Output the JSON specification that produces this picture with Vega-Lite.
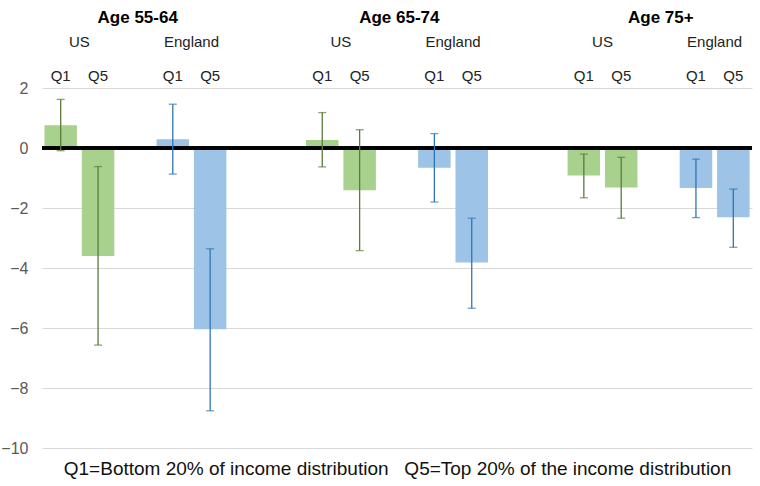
{
  "$schema": "https://vega.github.io/schema/vega-lite/v6.json",
  "width": 710,
  "height": 360,
  "autosize": {"type": "none"},
  "padding": {"left": 42, "top": 88, "right": 8, "bottom": 38},
  "background": "white",
  "config": {
    "view": {"stroke": null},
    "font": "Liberation Sans",
    "text": {"font": "Liberation Sans"}
  },
  "data": {
    "values": [
      {"age": "55-64", "country": "US", "quartile": "Q1", "value": 0.76, "lo": -0.09, "hi": 1.62},
      {"age": "55-64", "country": "US", "quartile": "Q5", "value": -3.60, "lo": -6.57, "hi": -0.62},
      {"age": "55-64", "country": "England", "quartile": "Q1", "value": 0.29, "lo": -0.87, "hi": 1.46},
      {"age": "55-64", "country": "England", "quartile": "Q5", "value": -6.04, "lo": -8.76, "hi": -3.36},
      {"age": "65-74", "country": "US", "quartile": "Q1", "value": 0.27, "lo": -0.63, "hi": 1.18},
      {"age": "65-74", "country": "US", "quartile": "Q5", "value": -1.41, "lo": -3.42, "hi": 0.61},
      {"age": "65-74", "country": "England", "quartile": "Q1", "value": -0.66, "lo": -1.80, "hi": 0.48},
      {"age": "65-74", "country": "England", "quartile": "Q5", "value": -3.82, "lo": -5.34, "hi": -2.34},
      {"age": "75+", "country": "US", "quartile": "Q1", "value": -0.92, "lo": -1.66, "hi": -0.20},
      {"age": "75+", "country": "US", "quartile": "Q5", "value": -1.32, "lo": -2.34, "hi": -0.31},
      {"age": "75+", "country": "England", "quartile": "Q1", "value": -1.33, "lo": -2.32, "hi": -0.37},
      {"age": "75+", "country": "England", "quartile": "Q5", "value": -2.31, "lo": -3.31, "hi": -1.37}
    ]
  },
  "transform": [
    {"calculate": "datum.age + '|' + datum.country + '|' + datum.quartile", "as": "key"},
    {"calculate": "'Age ' + datum.age", "as": "header"}
  ],
  "encoding": {
    "x": {
      "field": "key",
      "type": "nominal",
      "sort": null,
      "scale": {
        "domain": [
          "55-64|US|Q1", "55-64|US|Q5", "gap1", "55-64|England|Q1", "55-64|England|Q5",
          "gap2", "gap3",
          "65-74|US|Q1", "65-74|US|Q5", "gap4", "65-74|England|Q1", "65-74|England|Q5",
          "gap5", "gap6",
          "75+|US|Q1", "75+|US|Q5", "gap7", "75+|England|Q1", "75+|England|Q5"
        ],
        "paddingInner": 0.13,
        "paddingOuter": 0.065
      },
      "axis": {
        "labels": false,
        "ticks": false,
        "domain": false,
        "title": "Q1=Bottom 20% of income distribution\u00a0\u00a0\u00a0Q5=Top 20% of the income distribution",
        "titleFontSize": 19,
        "titleFontWeight": "normal",
        "titleColor": "#111111",
        "titlePadding": 11,
        "titleFont": "Liberation Sans"
      }
    }
  },
  "layer": [
    {
      "mark": {"type": "bar"},
      "encoding": {
        "y": {
          "field": "value",
          "type": "quantitative",
          "scale": {"domain": [-10, 2], "nice": false, "zero": false},
          "axis": {
            "values": [-10, -8, -6, -4, -2, 0, 2],
            "domain": false,
            "ticks": false,
            "labelFontSize": 16,
            "labelColor": "#595959",
            "labelPadding": 14,
            "labelFont": "Liberation Sans",
            "grid": true,
            "gridColor": "#d9d9d9",
            "gridWidth": 1,
            "title": null
          }
        },
        "y2": {"datum": 0},
        "color": {
          "field": "country",
          "type": "nominal",
          "scale": {"domain": ["US", "England"], "range": ["#a9d18e", "#9dc3e6"]},
          "legend": null
        }
      }
    },
    {
      "mark": {"type": "rule", "color": "#000000", "strokeWidth": 2.5},
      "encoding": {"x": null, "y": {"datum": 0}}
    },
    {
      "mark": {"type": "rule", "strokeWidth": 1.3},
      "encoding": {
        "y": {"field": "lo", "type": "quantitative"},
        "y2": {"field": "hi"},
        "color": {
          "field": "country",
          "type": "nominal",
          "scale": {"domain": ["US", "England"], "range": ["#5b7a3c", "#2e75b6"]},
          "legend": null
        }
      }
    },
    {
      "mark": {"type": "tick", "size": 8, "thickness": 1.3},
      "encoding": {
        "y": {"field": "lo", "type": "quantitative"},
        "color": {
          "field": "country",
          "type": "nominal",
          "scale": {"domain": ["US", "England"], "range": ["#5b7a3c", "#2e75b6"]},
          "legend": null
        }
      }
    },
    {
      "mark": {"type": "tick", "size": 8, "thickness": 1.3},
      "encoding": {
        "y": {"field": "hi", "type": "quantitative"},
        "color": {
          "field": "country",
          "type": "nominal",
          "scale": {"domain": ["US", "England"], "range": ["#5b7a3c", "#2e75b6"]},
          "legend": null
        }
      }
    },
    {
      "mark": {"type": "text", "fontSize": 15, "color": "#222222", "baseline": "middle", "align": "center"},
      "encoding": {
        "y": {"datum": 2.4},
        "text": {"field": "quartile"}
      }
    },
    {
      "transform": [{"filter": "datum.quartile === 'Q1'"}],
      "mark": {"type": "text", "fontSize": 15, "color": "#222222", "baseline": "middle", "align": "center"},
      "encoding": {
        "x": {"field": "key", "type": "nominal", "bandPosition": 1.0747},
        "y": {"datum": 3.53},
        "text": {"field": "country"}
      }
    },
    {
      "transform": [{"filter": "datum.quartile === 'Q5' && datum.country === 'US'"}],
      "mark": {"type": "text", "fontSize": 17, "fontWeight": "bold", "color": "#000000", "baseline": "middle", "align": "center"},
      "encoding": {
        "x": {"field": "key", "type": "nominal", "bandPosition": 1.72},
        "y": {"datum": 4.35},
        "text": {"field": "header"}
      }
    }
  ],
  "resolve": {"scale": {"color": "independent"}}
}
